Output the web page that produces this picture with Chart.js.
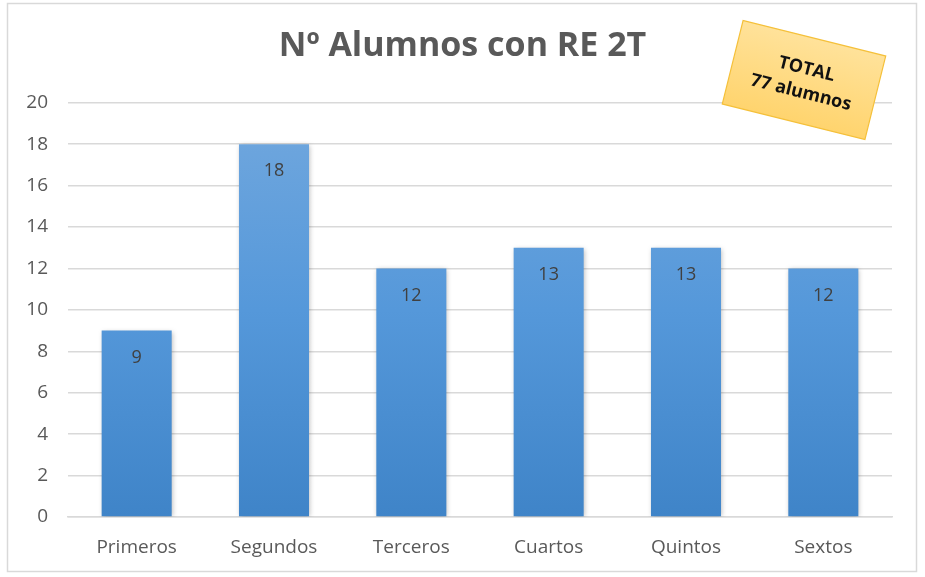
<!DOCTYPE html>
<html>
<head>
<meta charset="utf-8">
<script src="https://cdn.jsdelivr.net/npm/chart.js@4/dist/chart.umd.min.js"></script>
<style>
  html, body { margin: 0; padding: 0; background: #fff; }
  #wrap { width: 925px; height: 577px; }
</style>
</head>
<body>
<div id="wrap"><canvas id="chart" width="925" height="577"></canvas></div>
<script>
const categories = ['Primeros', 'Segundos', 'Terceros', 'Cuartos', 'Quintos', 'Sextos'];
const alumnos = [9, 18, 12, 13, 13, 12];
const yTicks = [0, 2, 4, 6, 8, 10, 12, 14, 16, 18, 20];
const totalLines = ['TOTAL', '77 alumnos'];

const FONT = "'Open Sans', sans-serif";

// outer frame of the chart
const framePlugin = {
    id: 'frame',
    beforeDraw(chart) {
        const ctx = chart.ctx;
        ctx.save();
        ctx.fillStyle = '#fff';
        ctx.fillRect(0, 0, chart.width, chart.height);
        ctx.strokeStyle = '#d9d9d9';
        ctx.lineWidth = 1.5;
        ctx.strokeRect(7.5, 3.5, 909, 568);
        ctx.restore();
    }
};

// soft shadow behind the bars
const shadowPlugin = {
    id: 'barShadow',
    beforeDatasetsDraw(chart) {
        const ctx = chart.ctx;
        ctx.save();
        ctx.shadowColor = 'rgba(0,0,0,0.28)';
        ctx.shadowBlur = 5;
        ctx.shadowOffsetX = 1;
        ctx.shadowOffsetY = 1;
    },
    afterDatasetsDraw(chart) {
        chart.ctx.restore();
    }
};

// values written inside the top of each bar
const valueLabels = {
    id: 'valueLabels',
    afterDatasetsDraw(chart) {
        const ctx = chart.ctx;
        const meta = chart.getDatasetMeta(0);
        ctx.save();
        ctx.font = '18px ' + FONT;
        ctx.fillStyle = '#404040';
        ctx.textAlign = 'center';
        ctx.textBaseline = 'middle';
        meta.data.forEach((bar, i) => {
            ctx.fillText(String(alumnos[i]), bar.x, bar.y + 27);
        });
        ctx.restore();
    }
};

// rotated yellow note with the total
const totalNote = {
    id: 'totalNote',
    afterDraw(chart) {
        const ctx = chart.ctx;
        ctx.save();
        ctx.translate(804, 80);
        ctx.rotate(14 * Math.PI / 180);
        const w = 147, h = 86;
        const g = ctx.createLinearGradient(0, -h / 2, 0, h / 2);
        g.addColorStop(0, '#ffe29a');
        g.addColorStop(1, '#ffd46e');
        ctx.fillStyle = g;
        ctx.fillRect(-w / 2, -h / 2, w, h);
        ctx.strokeStyle = '#f5c03a';
        ctx.lineWidth = 1.2;
        ctx.strokeRect(-w / 2, -h / 2, w, h);
        ctx.fillStyle = '#111';
        ctx.font = 'bold 18px ' + FONT;
        ctx.textAlign = 'center';
        ctx.textBaseline = 'middle';
        ctx.fillText(totalLines[0], 0, -11);
        ctx.fillText(totalLines[1], 0, 13);
        ctx.restore();
    }
};

const ctx = document.getElementById('chart');
const myChart = new Chart(ctx, {
    type: 'bar',
    data: {
        labels: categories,
        datasets: [{
            data: alumnos,
            backgroundColor: function(context) {
                const area = context.chart.chartArea;
                if (!area) {
                    return '#5b9bd5';
                }
                const g = context.chart.ctx.createLinearGradient(0, area.top, 0, area.bottom);
                g.addColorStop(0, '#72a8de');
                g.addColorStop(0.5, '#5598da');
                g.addColorStop(1, '#3f84c8');
                return g;
            },
            borderWidth: 0,
            categoryPercentage: 1,
            barPercentage: 0.51
        }]
    },
    options: {
        responsive: false,
        animation: false,
        layout: { padding: 0 },
        plugins: {
            legend: { display: false },
            tooltip: { enabled: false },
            title: {
                display: true,
                text: 'Nº Alumnos con RE 2T',
                color: '#595959',
                font: { family: FONT, size: 34, weight: 'bold', lineHeight: 1.2 },
                padding: { top: 26, bottom: 36 }
            }
        },
        scales: {
            x: {
                grid: { display: false, drawTicks: false },
                border: { color: '#d9d9d9', width: 1.5 },
                ticks: { color: '#595959', font: { family: FONT, size: 19 }, padding: 19 },
                afterFit: s => { s.height = 60; }
            },
            y: {
                min: 0,
                max: 20,
                afterBuildTicks: s => { s.ticks = yTicks.map(v => ({ value: v })); },
                grid: { color: '#d9d9d9', lineWidth: 1.5, drawTicks: false },
                border: { display: false },
                ticks: { color: '#595959', font: { family: FONT, size: 19 }, padding: 20 },
                afterFit: s => { s.width = 68; }
            },
            // empty right-hand spacer so the title stays centred on the frame
            spacer: {
                position: 'right',
                min: 0,
                max: 20,
                grid: { display: false, drawTicks: false },
                border: { display: false },
                ticks: { display: false },
                afterFit: s => { s.width = 33; }
            }
        }
    },
    plugins: [framePlugin, shadowPlugin, valueLabels, totalNote]
});
</script>
</body>
</html>
